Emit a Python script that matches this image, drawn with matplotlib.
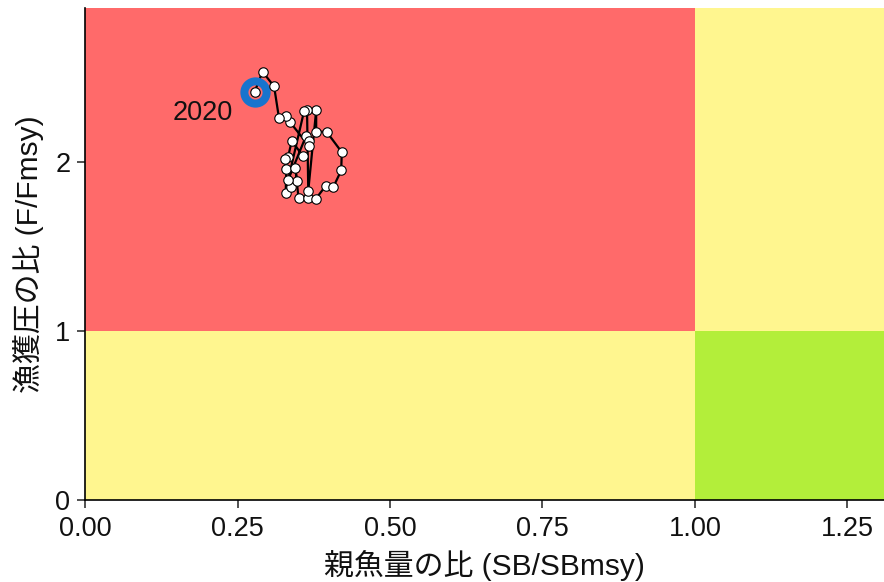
import numpy as np
import matplotlib
matplotlib.use("Agg")
from matplotlib import pyplot as plt

plt.rcParams['font.family'] = ['Liberation Sans', 'Noto Sans CJK JP', 'DejaVu Sans']

# trajectory, oldest first, last point is 2020
sb_ratio = [0.357, 0.339, 0.333, 0.328, 0.330, 0.329, 0.338, 0.347, 0.345, 0.350,
            0.365, 0.378, 0.395, 0.407, 0.420, 0.421, 0.396, 0.379, 0.379, 0.366,
            0.364, 0.359, 0.333, 0.362, 0.368, 0.367, 0.336, 0.330, 0.318, 0.310,
            0.291, 0.278]
f_ratio = [2.036, 2.124, 2.031, 2.016, 1.957, 1.818, 1.854, 1.889, 1.964, 1.785,
           1.785, 1.779, 1.860, 1.850, 1.949, 2.057, 2.178, 2.178, 2.306, 1.828,
           2.304, 2.298, 1.893, 2.150, 2.126, 2.095, 2.235, 2.272, 2.259, 2.446,
           2.533, 2.414]
last_year = "2020"

XMAX = 1.31
YMAX = 2.91

fig = plt.figure(figsize=(8.84, 5.82), dpi=100)
ax = fig.add_axes([0.0962, 0.1409, 0.9038, 0.8454])

# kobe quadrants
ax.fill_between([0, 1], 1, YMAX, color='#FF6A6A', lw=0)
ax.fill_between([1, XMAX], 1, YMAX, color='#FFF68F', lw=0)
ax.fill_between([0, 1], 0, 1, color='#FFF68F', lw=0)
ax.fill_between([1, XMAX], 0, 1, color='#B3EE3A', lw=0)

ax.plot(sb_ratio, f_ratio, color='black', lw=1.6, zorder=3)
ax.plot(sb_ratio[-1], f_ratio[-1], 'o', ms=16, mfc='none', mec='#1874CD', mew=5.8, zorder=4)
ax.plot(sb_ratio, f_ratio, 'o', ms=6.8, mfc='white', mec='black', mew=0.8, zorder=5)
ax.text(0.243, 2.29, last_year, ha='right', va='center', fontsize=19.5, color='#111111')

ax.set_xlim(0, XMAX)
ax.set_ylim(0, YMAX)
ax.set_xticks([0, 0.25, 0.5, 0.75, 1.0, 1.25])
ax.set_xticklabels(['0.00', '0.25', '0.50', '0.75', '1.00', '1.25'])
ax.set_yticks([0, 1, 2])
ax.tick_params(labelsize=19.5, length=5.5, width=1.2, color='#333333',
               labelcolor='#111111')
ax.tick_params(axis='x', pad=6)
ax.tick_params(axis='y', pad=5)
for s in ['top', 'right']:
    ax.spines[s].set_visible(False)
for s in ['left', 'bottom']:
    ax.spines[s].set_linewidth(1.2)
ax.set_xlabel('親魚量の比 (SB/SBmsy)', fontsize=21.5, labelpad=6, color='#111111')
ax.set_ylabel('漁獲圧の比 (F/Fmsy)', fontsize=21.5, labelpad=8, color='#111111')

fig.savefig('out.png', dpi=100)
